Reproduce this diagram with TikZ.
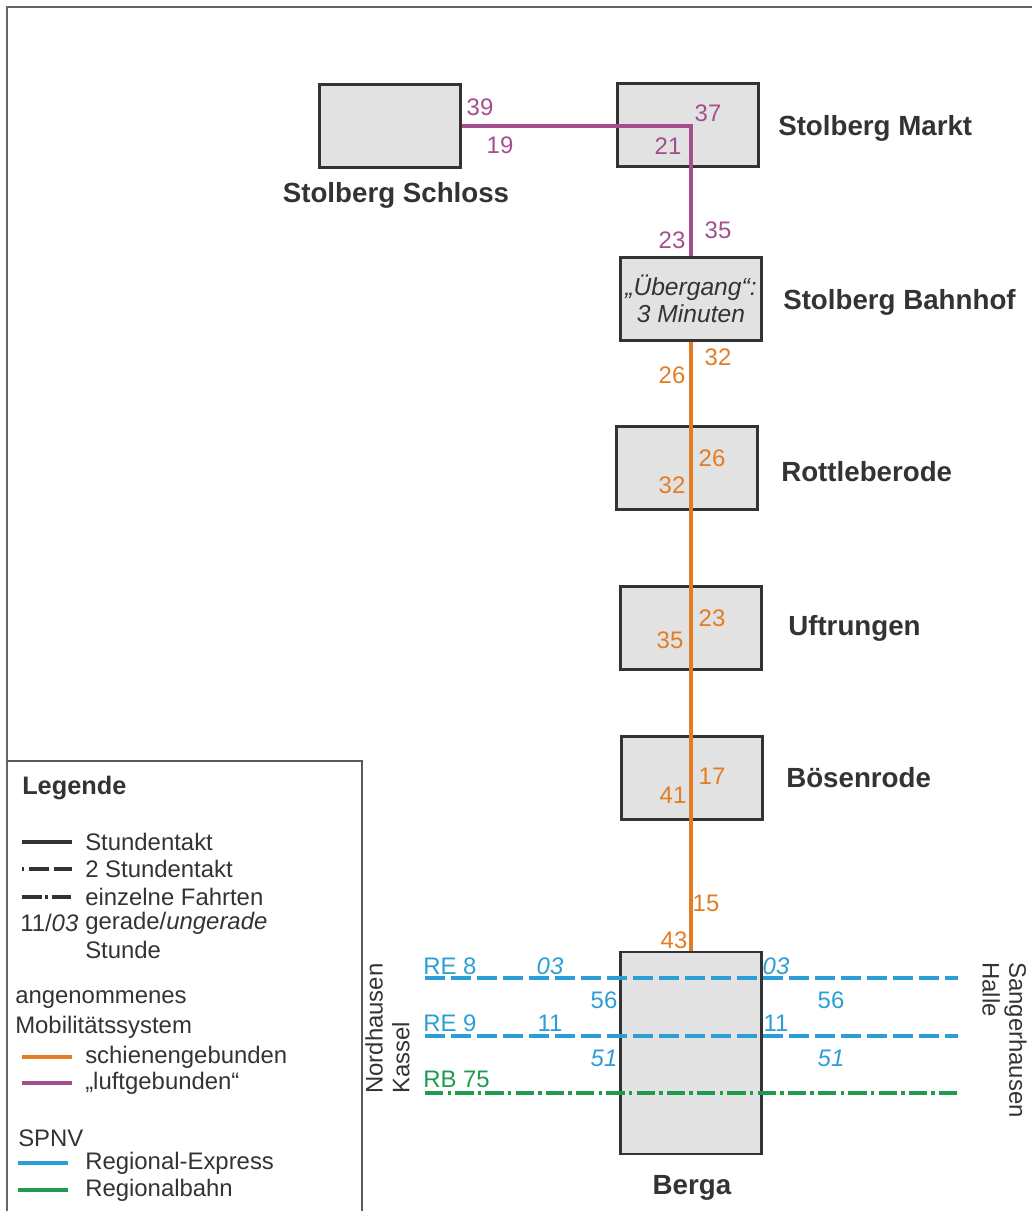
\documentclass[tikz,border=0pt]{standalone}
\usepackage{fontspec}
\setmainfont{Liberation Sans}
\definecolor{luftlila}{HTML}{A44F8D}
\definecolor{schieneorange}{HTML}{E37C24}
\definecolor{reblau}{HTML}{2C9ED6}
\definecolor{rbgruen}{HTML}{1F9A4E}
\definecolor{boxgrau}{HTML}{E2E2E2}
\definecolor{dunkel}{HTML}{333333}
\begin{document}
\begin{tikzpicture}[
    x=0.025cm, y=-0.025cm,
    halt/.style={draw=dunkel, fill=boxgrau, line width=1.9pt, inner sep=0pt,
        minimum width=3.52cm, minimum height=2.08cm},
    ort/.style={font=\fontsize{19.7}{22}\selectfont\bfseries, text=dunkel, inner sep=0pt},
    zeit/.style={font=\fontsize{17}{19}\selectfont, inner sep=0pt},
    leg/.style={font=\fontsize{17}{19}\selectfont, text=dunkel, inner sep=0pt, anchor=west},
    luft/.style={draw=luftlila, line width=2.6pt},
    schiene/.style={draw=schieneorange, line width=2.9pt},
    re/.style={draw=reblau, line width=3pt, dash pattern=on 14pt off 4.5pt},
    rb/.style={draw=rbgruen, line width=3pt, dash pattern=on 13pt off 3pt on 2.5pt off 3pt},
    muster/.style={line width=2.6pt}
]
\useasboundingbox (0,0) rectangle (1032,1211);
\draw[gray!80!black, line width=1pt] (7,1211) -- (7,7) -- (1032,7);

% Haltestellen
\node[halt] (schloss) at (390,126) {};
\node[halt] (markt) at (688,125) {};
\node[halt, align=center, font=\fontsize{17.5}{19.5}\selectfont\itshape, text=dunkel] (bahnhof) at (691,299) {„Übergang“:\\3 Minuten};
\node[halt] (rottle) at (687,468) {};
\node[halt] (uftrungen) at (691,628) {};
\node[halt] (boesen) at (692,778) {};
\node[halt, minimum height=5.05cm] (berga) at (691,1053) {};

\node[ort] at (396,195) {Stolberg Schloss};
\node[ort, anchor=west] at (778,128) {Stolberg Markt};
\node[ort, anchor=west] at (783,302) {Stolberg Bahnhof};
\node[ort, anchor=west] at (781,472) {Rottleberode};
\node[ort, anchor=west] at (788,628) {Uftrungen};
\node[ort, anchor=west] at (786,778) {Bösenrode};
\node[ort] at (692,1188) {Berga};

% Verbindungen
\draw[luft] (schloss.east) -| (bahnhof.north);
\draw[schiene] (bahnhof.south) -- (berga.north);

\coordinate (re8w) at (425,978);
\coordinate (re8o) at (958,978);
\coordinate (re9w) at (425,1036);
\coordinate (re9o) at (958,1036);
\coordinate (rbw) at (425,1093);
\coordinate (rbo) at (958,1093);
\draw[re] (re8w) -- (re8o);
\draw[re] (re9w) -- (re9o);
\draw[rb] (rbw) -- (rbo);

% Zeiten
\begin{scope}[every node/.style={zeit, text=luftlila}]
\node at (480,107) {39};
\node at (500,145) {19};
\node at (708,113) {37};
\node at (668,146) {21};
\node at (718,230) {35};
\node at (672,240) {23};
\end{scope}
\begin{scope}[every node/.style={zeit, text=schieneorange}]
\node at (718,357) {32};
\node at (672,375) {26};
\node at (712,458) {26};
\node at (672,485) {32};
\node at (712,618) {23};
\node at (670,640) {35};
\node at (712,776) {17};
\node at (673,795) {41};
\node at (706,903) {15};
\node at (674,940) {43};
\end{scope}
\begin{scope}[every node/.style={zeit, text=reblau}]
\node[anchor=west] at (423,966) {RE 8};
\node at (550,966) {\itshape 03};
\node at (604,1000) {56};
\node at (776,966) {\itshape 03};
\node at (831,1000) {56};
\node[anchor=west] at (423,1023) {RE 9};
\node at (550,1023) {11};
\node at (604,1058) {\itshape 51};
\node at (776,1023) {11};
\node at (831,1058) {\itshape 51};
\end{scope}
\node[zeit, text=rbgruen, anchor=west] at (423,1079) {RB 75};

\node[leg, rotate=90, anchor=north west, align=left] (westziel) at (365,1094) {Nordhausen\\Kassel};
\node[leg, rotate=-90, anchor=north west, align=left] (ostziel) at (1027,962) {Sangerhausen\\Halle};

% Legende
\draw[gray!70!black, line width=0.8pt] (7,761) -- (362,761) -- (362,1211);
\node[leg, font=\fontsize{18}{20}\selectfont\bfseries] at (22,788) {Legende};
\draw[dunkel, muster] (22,842) -- (72,842);
\draw[dunkel, muster, dash pattern=on 14pt off 3.5pt, dash phase=12.5pt] (22,869) -- (72,869);
\draw[dunkel, muster, dash pattern=on 14pt off 2.5pt on 2pt off 2.5pt] (22,897) -- (72,897);
\node[leg] at (85,842) {Stundentakt};
\node[leg] at (85,869) {2 Stundentakt};
\node[leg] at (85,897) {einzelne Fahrten};
\node[leg] at (20,923) {11/\textit{03}};
\node[leg] at (85,923) {gerade/\textit{ungerade}};
\node[leg] at (85,950) {Stunde};
\node[leg] at (15,1000) {angenommenes};
\node[leg] at (15,1027) {Mobilitätssystem};
\draw[schieneorange, muster] (22,1057) -- (72,1057);
\draw[luftlila, muster] (22,1083) -- (72,1083);
\node[leg] at (85,1057) {schienengebunden};
\node[leg] at (85,1083) {„luftgebunden“};
\node[leg] at (18,1138) {SPNV};
\draw[reblau, muster] (18,1163) -- (68,1163);
\draw[rbgruen, muster] (18,1190) -- (68,1190);
\node[leg] at (85,1163) {Regional-Express};
\node[leg] at (85,1190) {Regionalbahn};
\end{tikzpicture}
\end{document}
